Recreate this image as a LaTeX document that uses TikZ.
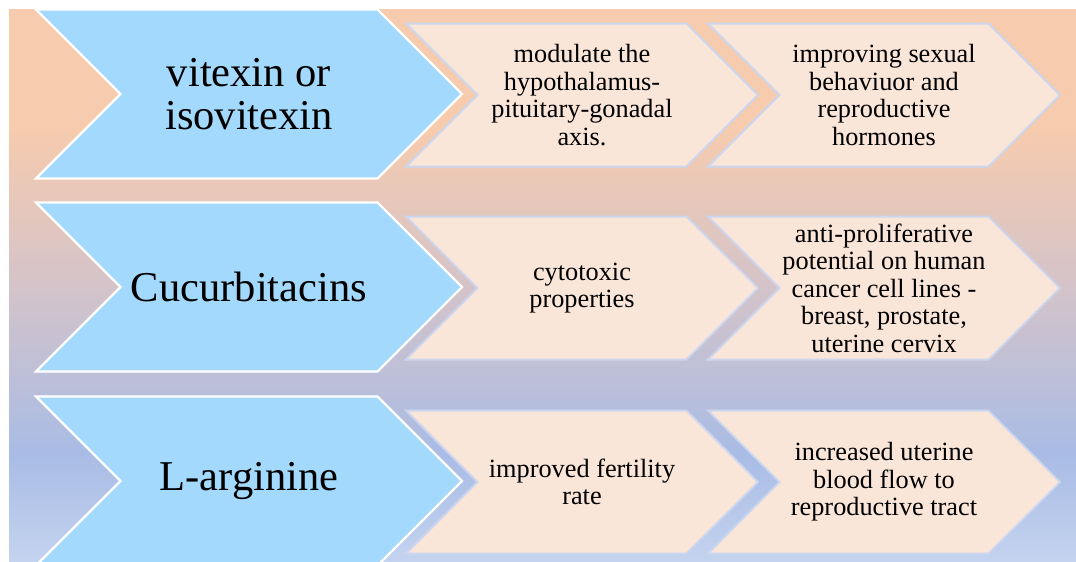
\documentclass[tikz,border=0pt]{standalone}
\usepackage{fontspec}
\setmainfont{Liberation Serif}
\usetikzlibrary{shapes.symbols}

\definecolor{bgpeach}{HTML}{F6CBAE}
\definecolor{bgmid}{HTML}{D3C3CA}
\definecolor{bgblue}{HTML}{A9BCE5}
\definecolor{bgpale}{HTML}{C4D3EF}
\definecolor{chevblue}{HTML}{A3D9FC}
\definecolor{chevpeach}{HTML}{FAE5D9}
\definecolor{chevedge}{HTML}{CCD6EE}

\pgfdeclareverticalshading{backshade}{100bp}{color(0bp)=(bgpale); color(25bp)=(bgpale);
  color(34.7bp)=(bgblue); color(49.6bp)=(bgmid); color(64bp)=(bgpeach); color(100bp)=(bgpeach)}

\tikzset{
  chev/.style={signal, signal to=east, signal from=west, signal pointer angle=90,
    inner sep=0pt, align=center},
  bigchev/.style={chev, fill=chevblue, draw=white, line width=2.2pt,
    minimum width=426pt, minimum height=169pt, font=\fontsize{42.5}{43.5}\selectfont},
  smallchev/.style={chev, fill=chevpeach, draw=chevedge, line width=2pt,
    minimum width=352pt, minimum height=143pt, font=\fontsize{26.3}{27.5}\selectfont}
}

\begin{document}
\begin{tikzpicture}[x=1pt,y=-1pt]
\useasboundingbox (0,0) rectangle (1076,562);
\shade[shading=backshade] (9,9) rectangle (1076,562);

\path
(249,94) node[bigchev](vit){vitexin or\\isovitexin}
(249,287) node[bigchev](cuc){Cucurbitacins}
(249,481) node[bigchev](arg){L-arginine}
(582,95) node[smallchev](hpg){modulate the\\hypothalamus-\\pituitary-gonadal\\axis.}
(884,95) node[smallchev](sex){improving sexual\\behaviuor and\\reproductive\\hormones}
(582,288) node[smallchev](cyt){cytotoxic\\properties}
(884,288) node[smallchev](pro){anti-proliferative\\potential on human\\cancer cell lines -\\breast, prostate,\\uterine cervix}
(582,482) node[smallchev](fer){improved fertility\\rate}
(884,482) node[smallchev](flo){increased uterine\\blood flow to\\reproductive tract}
;
\end{tikzpicture}
\end{document}
